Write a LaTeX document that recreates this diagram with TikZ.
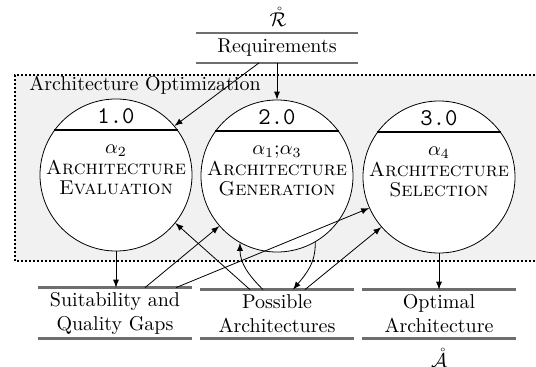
\documentclass[tikz,border=0pt]{standalone}
\usepackage{tikz}
\definecolor{storegray}{RGB}{110,110,110}
\definecolor{boxgray}{RGB}{241,241,241}

\begin{document}
\begin{tikzpicture}[x=0.5pt,y=0.5pt,
		proc/.style={circle,draw,fill=white,minimum size=76pt,inner sep=0pt},
		ptext/.style={align=center,font=\linespread{0.85}\selectfont},
		pnum/.style={font=\ttfamily\large},
		storeline/.style={storegray,line width=1.3pt},
		store/.style={align=center,minimum width=77pt,minimum height=24pt,inner sep=0pt,
			append after command={(\tikzlastnode.north west) edge[storeline] (\tikzlastnode.north east)
				(\tikzlastnode.south west) edge[storeline] (\tikzlastnode.south east)}},
		flow/.style={-latex}]
		% border
		\clip (0,0) rectangle (536,366);
		% optimization boundary
		\draw[fill=boxgray,line width=1pt,densely dotted] (15,105) rectangle (545,291);
		\node[anchor=west,inner sep=1pt] (optlbl) at (27,281) {Architecture Optimization};
		% processes
		\node[proc] (p1) at (116,191) {};
		\node[proc] (p2) at (277,190) {};
		\node[proc] (p3) at (439,189) {};
		\draw[line width=1.2pt] (p1.36) -- (p1.144);
		\draw[line width=1.2pt] (p2.36) -- (p2.144);
		\draw[line width=1.2pt] (p3.36) -- (p3.144);
		\node[pnum]  (n1) at (116,250) {1.0};
		\node[pnum]  (n2) at (277,249) {2.0};
		\node[pnum]  (n3) at (439,248) {3.0};
		\node[ptext] (t1) at (116,196) {$\alpha_2$\\\textsc{Architecture}\\\textsc{Evaluation}};
		\node[ptext] (t2) at (277,195) {$\alpha_1$;$\alpha_3$\\\textsc{Architecture}\\\textsc{Generation}};
		\node[ptext] (t3) at (439,194) {$\alpha_4$\\\textsc{Architecture}\\\textsc{Selection}};
		% stores
		\node[store,minimum width=81pt,minimum height=14.5pt] (req) at (277,318) {Requirements};
		\node[store,minimum height=25pt] (gaps) at (115,53) {Suitability and\\Quality Gaps};
		\node[store] (poss) at (277,52) {Possible\\Architectures};
		\node[store] (opt)  at (439,52) {Optimal\\Architecture};
		\node[inner sep=0pt] (rsym) at (278,349) {$\mathring{\mathcal{R}}$};
		\node[inner sep=0pt] (asym) at (439,8) {$\mathring{\mathcal{A}}$};
		% flows
		\draw[flow] ([xshift=-9pt]req.south) -- (p1.40);
		\draw[flow] (req.south) -- (p2.north);
		\draw[flow] (p1.south) -- (gaps.north -| p1.south);
		\draw[flow] (p3.south) -- (opt.north);
		\draw[flow] ([xshift=15pt]gaps.north) -- (p2.221);
		\draw[flow] ([xshift=30.5pt]gaps.north) -- (p3.204);
		\draw[flow] ([xshift=-13.5pt]poss.north) -- (p1.321);
		\draw[flow] ([xshift=-7pt]poss.north) to[out=135,in=-90] (p2.241);
		\draw[flow] (p2.300) to[out=-88,in=50] ([xshift=8pt]poss.north);
		\draw[flow] ([xshift=14pt]poss.north) -- (p3.221);
	\end{tikzpicture}
\end{document}
